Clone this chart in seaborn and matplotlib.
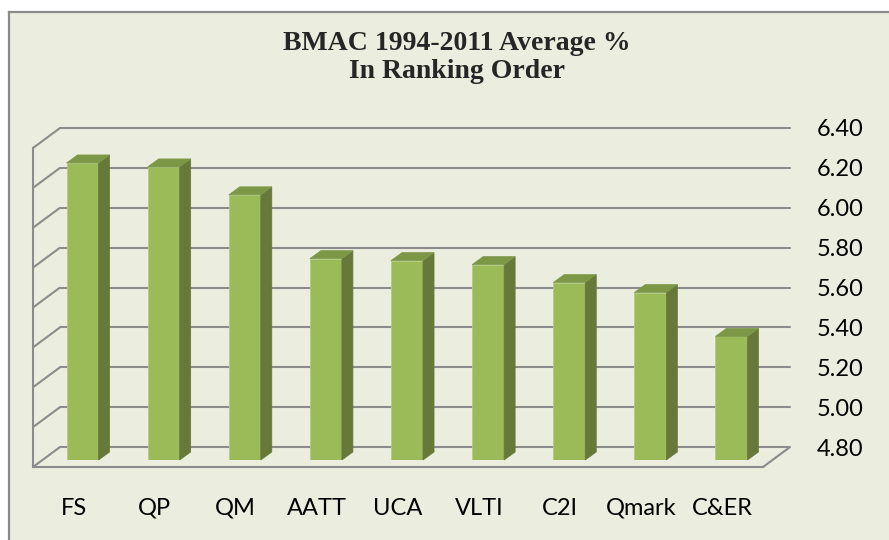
import matplotlib.pyplot as plt
import seaborn as sns
from matplotlib.patches import Polygon
from matplotlib.ticker import MultipleLocator, FormatStrFormatter

# data
categories = ['FS', 'QP', 'QM', 'AATT', 'UCA', 'VLTI', 'C2I', 'Qmark', 'C&ER']
averages = [6.29, 6.27, 6.13, 5.81, 5.80, 5.78, 5.69, 5.64, 5.42]
y_ticks = [4.80, 5.00, 5.20, 5.40, 5.60, 5.80, 6.00, 6.20, 6.40]
title = 'BMAC 1994-2011 Average %\nIn Ranking Order'

W, H = 889, 540
bg = '#EBEEDF'
grid_c = '#8C8C8C'
front_c = '#9BBB59'
side_c = '#66783A'
top_c = '#7C9847'

sns.set_style('white')
plt.rcParams['font.family'] = ['Lato', 'DejaVu Sans']

fig = plt.figure(figsize=(W / 100, H / 100), dpi=100, facecolor='white')


def box(x, y_top, w, h):
    # pixel box -> figure fraction
    return [x / W, (H - y_top - h) / H, w / W, h / H]


# chart area background with border on top/left
ax_bg = fig.add_axes(box(9, 12, W - 9, H - 12))
ax_bg.set_facecolor(bg)
ax_bg.set_xticks([])
ax_bg.set_yticks([])
for s in ['right', 'bottom']:
    ax_bg.spines[s].set_visible(False)
for s in ['top', 'left']:
    ax_bg.spines[s].set_color('#8A8A8A')
    ax_bg.spines[s].set_linewidth(1.6)

# geometry of the fake 3d box (pixels)
px_cat = 81.0
px_val = 319 / 1.6
depth_x, depth_y = 27 / px_cat, 20 / px_val        # full depth in data units
bar_dx, bar_dy = 11 / px_cat, 8 / px_val            # bar thickness

# back wall: gridlines + right hand labels
ax_back = fig.add_axes(box(60, 128, 730, 319))
ax_back.patch.set_alpha(0)
ax_back.set_xlim(-0.5, 8.5)
ax_back.set_ylim(4.8, 6.4)
ax_back.set_xticks([])
ax_back.set_yticks(y_ticks)
ax_back.yaxis.set_major_formatter(FormatStrFormatter('%.2f'))
ax_back.yaxis.tick_right()
ax_back.tick_params(axis='y', length=0, pad=19, labelsize=17, labelcolor='black')
ax_back.grid(axis='y', color=grid_c, linewidth=1.5, clip_on=False)
sns.despine(ax=ax_back, left=True, bottom=True, right=True, top=True)

# front plane: left axis, floor edge, category ticks and labels
ax = fig.add_axes(box(33, 148, 730, 319))
ax.patch.set_alpha(0)
ax.set_xlim(-0.5, 8.5)
ax.set_ylim(4.8, 6.4)
for s in ['top', 'right']:
    ax.spines[s].set_visible(False)
for s in ['left', 'bottom']:
    ax.spines[s].set_color(grid_c)
    ax.spines[s].set_linewidth(1.5)
ax.set_yticks(y_ticks)
ax.yaxis.set_minor_locator(MultipleLocator(0.04))
ax.tick_params(axis='y', which='both', direction='in', length=5, width=1.5,
               color=grid_c, labelleft=False)
ax.set_xticks([i - 0.5 for i in range(len(categories) + 1)])
ax.set_xticks(range(len(categories)), labels=categories, minor=True)
ax.tick_params(axis='x', which='major', direction='out', length=5, width=1.5,
               color=grid_c, labelbottom=False)
ax.tick_params(axis='x', which='minor', length=0, pad=22, labelsize=17,
               labelcolor='black')
for v in y_ticks:
    ax.plot([-0.5, -0.5 + depth_x], [v, v + depth_y], color=grid_c, lw=1.5,
            clip_on=False, solid_capstyle='butt')
ax.plot([8.5, 8.5 + depth_x], [4.8, 4.8 + depth_y], color=grid_c, lw=1.5,
        clip_on=False, solid_capstyle='butt')

# bars, set back into the box
ax_bar = fig.add_axes(box(42, 141, 730, 319))
ax_bar.patch.set_alpha(0)
sns.barplot(x=categories, y=averages, ax=ax_bar, color=front_c, saturation=1,
            width=0.395, edgecolor='#B3CB82', linewidth=0.6)
ax_bar.set_xlim(-0.5, 8.5)
ax_bar.set_ylim(4.8, 6.4)
ax_bar.axis('off')
for p in list(ax_bar.patches):
    x0, w, top = p.get_x(), p.get_width(), p.get_height()
    side = [(x0 + w, 4.8), (x0 + w, top), (x0 + w + bar_dx, top + bar_dy),
            (x0 + w + bar_dx, 4.8 + bar_dy)]
    cap = [(x0, top), (x0 + w, top), (x0 + w + bar_dx, top + bar_dy),
           (x0 + bar_dx, top + bar_dy)]
    ax_bar.add_patch(Polygon(side, closed=True, facecolor=side_c,
                             edgecolor=side_c, lw=0.5, clip_on=False))
    ax_bar.add_patch(Polygon(cap, closed=True, facecolor=top_c,
                             edgecolor=top_c, lw=0.5, clip_on=False))

fig.text(457 / W, 1 - 31 / H, title, ha='center', va='top', fontsize=20,
         fontweight='bold', family=['Liberation Serif', 'DejaVu Serif'],
         linespacing=1.15)

fig.savefig('out.png', dpi=100, facecolor='white')
